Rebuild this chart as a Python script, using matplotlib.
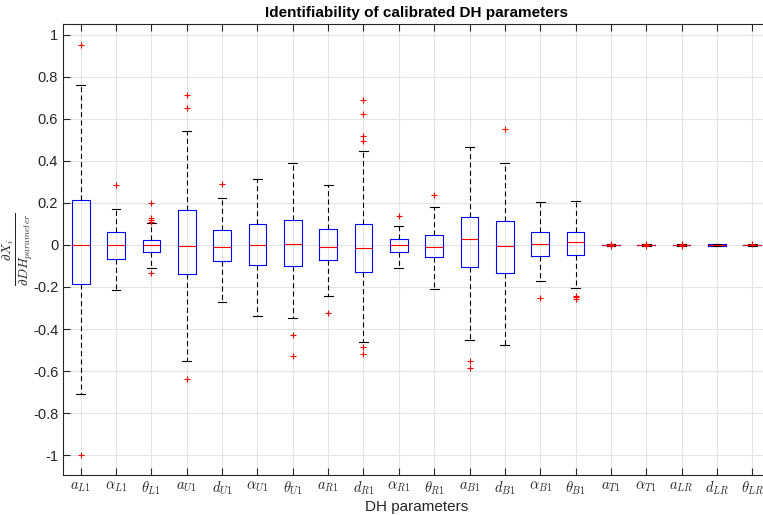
import matplotlib
matplotlib.use("Agg")
import matplotlib.pyplot as plt
from matplotlib.ticker import FuncFormatter

plt.rcParams['font.family'] = ['Liberation Sans', 'DejaVu Sans']
plt.rcParams['mathtext.fontset'] = 'cm'

# DH parameter names (x tick labels)
labels = [r'$a_{L1}$', r'$\alpha_{L1}$', r'$\theta_{L1}$', r'$a_{U1}$', r'$d_{U1}$',
          r'$\alpha_{U1}$', r'$\theta_{U1}$', r'$a_{R1}$', r'$d_{R1}$', r'$\alpha_{R1}$',
          r'$\theta_{R1}$', r'$a_{B1}$', r'$d_{B1}$', r'$\alpha_{B1}$', r'$\theta_{B1}$',
          r'$a_{T1}$', r'$\alpha_{T1}$', r'$a_{LR}$', r'$d_{LR}$', r'$\theta_{LR}$']

# box statistics
med = [0.0, -0.001, 0.0, -0.005, -0.008, 0.002, 0.006, -0.011, -0.014, -0.002,
       -0.010, 0.029, -0.006, 0.003, 0.013, 0.0, 0.0, 0.0, 0.0, 0.0]
q1 = [-0.187, -0.067, -0.035, -0.138, -0.075, -0.095, -0.098, -0.073, -0.130, -0.032,
      -0.059, -0.105, -0.133, -0.051, -0.048, -0.002, -0.002, -0.002, -0.004, -0.002]
q3 = [0.214, 0.063, 0.022, 0.168, 0.070, 0.101, 0.117, 0.078, 0.101, 0.027,
      0.048, 0.135, 0.113, 0.062, 0.060, 0.002, 0.002, 0.002, 0.003, 0.002]
whislo = [-0.71, -0.213, -0.108, -0.554, -0.270, -0.338, -0.349, -0.243, -0.460, -0.108,
          -0.210, -0.454, -0.475, -0.170, -0.203, -0.004, -0.004, -0.004, -0.006, -0.004]
whishi = [0.76, 0.170, 0.103, 0.543, 0.224, 0.314, 0.392, 0.286, 0.448, 0.092,
          0.179, 0.468, 0.390, 0.203, 0.210, 0.004, 0.004, 0.004, 0.005, 0.004]
fliers = [[0.95, -1.0],
          [0.286],
          [0.20, 0.13, 0.12, 0.11, -0.132],
          [0.714, 0.651, -0.638],
          [0.289],
          [],
          [-0.429, -0.527],
          [-0.322],
          [0.689, 0.622, 0.52, 0.497, -0.487, -0.521],
          [0.138],
          [0.240],
          [-0.552, -0.584],
          [0.552],
          [-0.251],
          [-0.243, -0.256, -0.250],
          [0.006, -0.006],
          [0.006, -0.006],
          [0.006, -0.006],
          [],
          [0.006]]

stats = []
for i in range(len(labels)):
    stats.append(dict(med=med[i], q1=q1[i], q3=q3[i], whislo=whislo[i],
                      whishi=whishi[i], fliers=fliers[i]))

fig = plt.figure(figsize=(7.63, 5.15), dpi=100)
ax = fig.add_axes([63 / 763, 1 - 475 / 515, 707 / 763, 451 / 515])

ax.bxp(stats, positions=range(1, len(labels) + 1), widths=0.5,
       boxprops=dict(color='blue', linewidth=0.8),
       medianprops=dict(color='red', linewidth=0.8),
       whiskerprops=dict(color='black', linewidth=0.8, linestyle=(0, (4.5, 3))),
       capprops=dict(color='black', linewidth=0.8),
       flierprops=dict(marker='+', markeredgecolor='red', markersize=4.5,
                       markeredgewidth=0.8, linestyle='none'))

ax.set_xlim(0.5, len(labels) + 0.5)
ax.set_ylim(-1.095, 1.052)
ax.set_xticks(range(1, len(labels) + 1))
ax.set_xticklabels(labels, fontsize=12)
ax.set_yticks([-1, -0.8, -0.6, -0.4, -0.2, 0, 0.2, 0.4, 0.6, 0.8, 1])
ax.yaxis.set_major_formatter(FuncFormatter(lambda v, p: f'{v:g}'))

ax.grid(True, color='#e3e3e3', linewidth=0.8)
ax.set_axisbelow(True)
ax.tick_params(direction='in', length=5, width=0.8, top=True, right=True,
               colors='#262626', labelsize=10.5)
for s in ax.spines.values():
    s.set_color('#262626')
    s.set_linewidth(0.8)

ax.set_title('Identifiability of calibrated DH parameters', fontsize=11,
             fontweight='bold', pad=5)
ax.set_xlabel('DH parameters', fontsize=11, color='#262626', labelpad=2)
ax.set_ylabel(r'$\frac{\partial X_i}{\partial DH_{parameter}}$', fontsize=13.5,
              color='#262626')
ax.yaxis.set_label_coords(-0.040, 0.50)

fig.savefig('out.png', dpi=100)
